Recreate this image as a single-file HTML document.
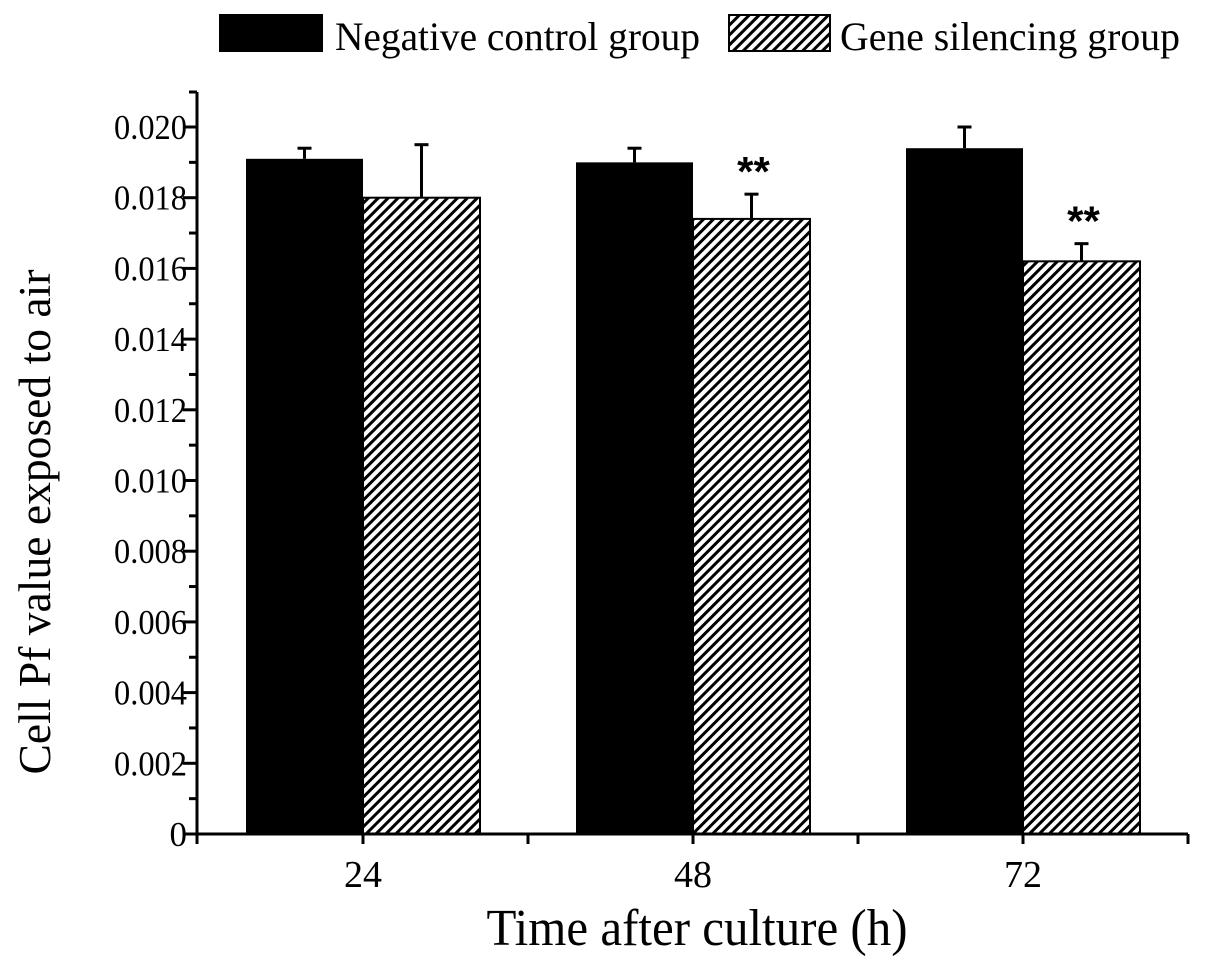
<!DOCTYPE html>
<html><head><meta charset="utf-8"><style>
html,body{margin:0;padding:0;background:#fff;}
svg{display:block;font-family:"Liberation Serif",serif;}
</style></head><body>
<svg id="chart" width="1205" height="966" viewBox="0 0 1205 966" xmlns="http://www.w3.org/2000/svg">
<defs>
<pattern id="hatch" patternUnits="userSpaceOnUse" width="7" height="7" patternTransform="rotate(45)">
<rect width="7" height="7" fill="#fff"/><rect x="0" y="0" width="3" height="7" fill="#000"/>
</pattern>
</defs>
<g>
<rect x="219" y="14" width="104" height="38" fill="#000"/>
<text x="335" y="50" font-size="40" textLength="365" lengthAdjust="spacingAndGlyphs">Negative control group</text>
<rect x="729" y="15" width="101" height="36" fill="url(#hatch)" stroke="#000" stroke-width="2"/>
<text x="840" y="50" font-size="40" textLength="340" lengthAdjust="spacingAndGlyphs">Gene silencing group</text>
</g>
<g id="plot"></g>
<text transform="translate(50,522) rotate(-90)" text-anchor="middle" font-size="45" textLength="505" lengthAdjust="spacingAndGlyphs">Cell Pf value exposed to air</text>
<text x="697" y="945" text-anchor="middle" font-size="52" textLength="421" lengthAdjust="spacingAndGlyphs">Time after culture (h)</text>
</svg>
<script>
const categories = ["24", "48", "72"];
const negValues = [0.0191, 0.0190, 0.0194];
const negErrors = [0.0003, 0.0004, 0.0006];
const silValues = [0.0180, 0.0174, 0.0162];
const silErrors = [0.0015, 0.0007, 0.0005];
const silSignif = ["", "**", "**"];
const yTicks = [0, 0.002, 0.004, 0.006, 0.008, 0.010, 0.012, 0.014, 0.016, 0.018, 0.020];
const yTickLabels = ["0","0.002","0.004","0.006","0.008","0.010","0.012","0.014","0.016","0.018","0.020"];

const NS = "http://www.w3.org/2000/svg";
const g = document.getElementById("plot");
const x0 = 197, y0 = 834, yTop = 127, yMaxV = 0.020;
const yS = v => y0 - (v / yMaxV) * (y0 - yTop);
const groupW = 330, barW = 117;
const xC = i => 363 + i * groupW;
function mk(tag, attrs, parent){const e=document.createElementNS(NS,tag);for(const k in attrs)e.setAttribute(k,attrs[k]);(parent||g).appendChild(e);return e;}

categories.forEach((c,i)=>{
  const cx = xC(i);
  const b1 = mk("rect",{x:cx-barW,y:yS(negValues[i]),width:barW,height:y0-yS(negValues[i]),fill:"#000"});
  
  
  const b2 = mk("rect",{x:cx,y:yS(silValues[i]),width:barW,height:y0-yS(silValues[i]),fill:"url(#hatch)",stroke:"#000","stroke-width":2});
  
  
  [[cx-barW/2,negValues[i],negErrors[i],'negative'],[cx+barW/2,silValues[i],silErrors[i],'silencing']].forEach(([ex,v,e,n])=>{
    const eg = mk("g",{stroke:"#000","stroke-width":3});
    
    
    mk("line",{x1:ex,x2:ex,y1:yS(v),y2:yS(v+e)},eg);
    mk("line",{x1:ex-7,x2:ex+7,y1:yS(v+e),y2:yS(v+e)},eg);
  });
  if (silSignif[i]) {
    const t = mk("text",{x:cx+barW/2+2,y:yS(silValues[i]+silErrors[i])-8,"text-anchor":"middle","font-size":42,"font-weight":"bold","font-family":"Liberation Sans, sans-serif"});
    t.textContent = silSignif[i];
    
    
  }
  const lbl = mk("text",{x:cx,y:887,"text-anchor":"middle","font-size":38});
  lbl.textContent = c;
  
  
});

const ax = mk("g",{stroke:"#000","stroke-width":3,fill:"none"});


mk("line",{x1:x0,x2:x0,y1:92,y2:y0+8},ax);
mk("line",{x1:x0-1,x2:1188,y1:y0,y2:y0},ax);
mk("line",{x1:x0,x2:x0-8,y1:92,y2:92},ax);
for (let k=0;k<yTicks.length-1;k++){
  const mid=(yTicks[k]+yTicks[k+1])/2;
  mk("line",{x1:x0,x2:x0-8,y1:yS(mid),y2:yS(mid)},ax);
}
yTicks.forEach((v,k)=>{
  mk("line",{x1:x0,x2:x0-14,y1:yS(v),y2:yS(v)},ax);
  const attrs = {x:x0-10,y:yS(v)+12,"text-anchor":"end","font-size":35};
  if (yTickLabels[k].length > 1) { attrs.textLength = 73; attrs.lengthAdjust = "spacingAndGlyphs"; }
  const t = mk("text",attrs);
  t.textContent = yTickLabels[k];
  
  
});
for (let k=0;k<=categories.length*2;k++){
  const xx = x0 + k*(groupW/2) + (k>0? (363-x0-groupW/2):0);
  mk("line",{x1:xx,x2:xx,y1:y0,y2:y0+10},ax);
}
</script>
</body></html>
